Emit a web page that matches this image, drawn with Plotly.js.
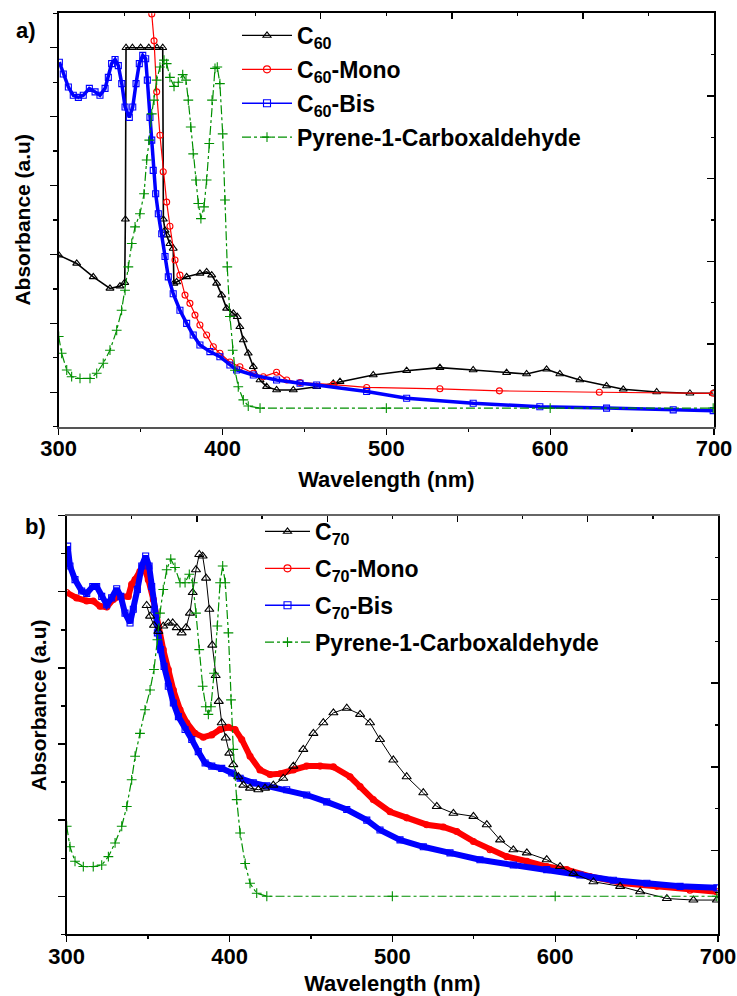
<!DOCTYPE html>
<html>
<head>
<meta charset="utf-8">
<script src="https://cdn.plot.ly/plotly-3.0.1.min.js"></script>
<style>html,body{margin:0;padding:0;background:#fff;}#chart{width:737px;height:996px;}</style>
</head>
<body>
<div id="chart"></div>
<script>
// ---------- Panel a) : C60 series (absorbance, arbitrary units) ----------
var c60X = [300,311,321.1,331.3,337.4,340.3,340.7,341.1,345,350,355,360,363.5,363.9,364.9,365.9,367.9,369.9,370.3,372,378.1,386.2,390.3,393.4,396.4,399.5,402.5,406.6,409,410.6,412.7,415.7,418.8,422.9,426.9,433,443.2,457.5,467.6,471.7,492,512.4,532.7,553,573.4,585.6,597.8,605.9,618.1,634.4,644.6,665,685.3,699.5];
var c60Y = [1.99,1.87,1.675,1.507,1.54,1.59,2.51,5.0,5.0,5.0,5.0,5.0,5.0,2.51,2.35,2.28,2.155,2.087,1.58,1.60,1.675,1.725,1.748,1.70,1.58,1.41,1.217,1.145,1.096,0.95,0.758,0.565,0.371,0.178,0.081,0.033,0.033,0.081,0.13,0.154,0.25,0.313,0.357,0.323,0.284,0.265,0.333,0.265,0.178,0.091,0.043,0.004,-0.015,-0.015];

var c60MonoX = [356.5,356.8,358.2,359.8,361.8,363.8,365.9,367.9,371,374,377.1,380.1,383.2,386.2,390.3,394.4,398.4,404.5,410.6,418.8,424.9,433,439.2,447.3,467.6,488,532.7,569,630,699.5];
var c60MonoY = [5.8,5.49,5.1,4.36,3.73,3.2,2.76,2.41,1.92,1.70,1.41,1.29,1.12,0.975,0.83,0.66,0.565,0.44,0.37,0.275,0.226,0.29,0.178,0.14,0.11,0.07,0.05,0.02,0.0,-0.015];

var c60BisX = [300.4,302.8,305.9,308.9,312,315,318.7,322.2,325.2,328.3,330.3,332.3,334.4,336.4,338.5,340.5,343.1,345.2,347.2,349.2,351.3,353.1,354.1,355.7,356.8,357.7,359.2,360.8,362.9,364.9,366.9,369.9,374,378.1,382.1,386.2,392.3,398.4,404.5,408.6,418.8,433,447.3,457.5,488,512.4,553,593.7,634.4,675.1,699.5];
var c60BisY = [4.79,4.62,4.43,4.31,4.28,4.31,4.41,4.36,4.31,4.41,4.57,4.77,4.83,4.74,4.48,4.14,3.99,4.14,4.48,4.77,4.89,4.84,4.53,3.99,3.66,3.22,2.88,2.59,2.30,1.97,1.675,1.43,1.19,1.0,0.83,0.685,0.59,0.516,0.396,0.323,0.25,0.178,0.13,0.106,0.01,-0.087,-0.16,-0.21,-0.23,-0.256,-0.267];

var pyrAX = [300,301.8,304.9,307.9,313,319.1,323.2,327.2,331.3,335.4,338.4,340.5,342.5,344.6,346.6,349.6,352.1,353.7,355.3,356.8,358.2,359.8,361.8,364.3,365.9,367.9,370.4,373,375.7,377.7,379.1,380.6,382.1,383.8,385.2,386.8,388.7,390.3,391.9,393.6,395.4,396.8,398.4,400.1,401.5,402.9,404.5,406.2,407.6,409.6,412.7,415.7,422.9,500,600,699.5];
var pyrAY = [0.81,0.565,0.323,0.226,0.2,0.2,0.275,0.42,0.61,0.9,1.19,1.48,1.82,2.16,2.40,2.59,2.88,3.37,3.66,4.04,4.24,4.53,4.72,4.82,4.77,4.57,4.44,4.50,4.61,4.53,4.24,3.85,3.46,3.08,2.74,2.52,2.69,3.08,3.61,4.24,4.70,4.72,4.48,3.75,2.79,1.82,1.10,0.61,0.32,0.08,-0.11,-0.2,-0.23,-0.23,-0.23,-0.23];

// ---------- Panel b) : C70 series ----------
var c70X = [349.1,351.2,353.6,356.3,359.3,362.4,365.1,367.6,370.6,373.3,375.7,377.4,379.4,381.4,383.5,385.6,387.6,389.4,391.5,393.4,395.2,397.7,399.9,402.3,405.4,408.5,412.6,417.7,421.8,426.9,433,439.2,445.3,451.5,457.6,463.8,472,480.2,486.3,492.4,500.6,508.8,519,527.3,537.5,549.8,558,566.2,574.3,582.6,594.8,603,611.2,623.5,639.9,652.2,668.6,684.9,699.3];
var c70Y = [3.82,3.68,3.56,3.48,3.55,3.59,3.59,3.53,3.46,3.53,3.72,3.99,4.29,4.49,4.47,4.18,3.77,3.30,2.90,2.56,2.28,2.08,1.88,1.73,1.57,1.46,1.42,1.40,1.42,1.46,1.55,1.71,1.93,2.14,2.28,2.41,2.47,2.39,2.28,2.06,1.79,1.57,1.36,1.18,1.09,1.05,0.94,0.74,0.61,0.57,0.48,0.39,0.30,0.19,0.13,0.06,-0.03,-0.05,-0.05];

var c70MonoX = [300,306.1,312.3,316.3,320.5,324.6,328.6,332.7,337.8,339.9,342,345,347.5,350.1,353.2,356.3,359.3,362.4,365.5,369.6,373.7,378.8,383.9,389.1,394.2,399.3,403.4,407.5,412.6,418.7,424.9,431,439.2,447.4,455.6,463.8,474,480.2,488.3,498.6,508.8,521.1,531.3,539.6,549.8,560,570.3,582.6,594.8,607.1,621.4,641.9,662.4,682.8,699.3];
var c70MonoY = [3.99,3.92,3.88,3.88,3.81,3.80,3.90,3.94,3.94,4.10,4.16,4.27,4.32,4.16,3.90,3.55,3.24,2.98,2.71,2.45,2.28,2.14,2.09,2.12,2.19,2.22,2.19,2.06,1.84,1.66,1.60,1.61,1.66,1.71,1.71,1.70,1.57,1.44,1.27,1.11,1.03,0.94,0.91,0.85,0.72,0.61,0.52,0.46,0.39,0.35,0.26,0.17,0.13,0.08,0.06];

var c70BisX = [300.6,302,305.1,309.2,312.3,316,318.4,321.5,324.6,327.6,330.7,333.2,335.8,338.9,340.9,343.4,346.1,348.5,350.6,352.2,353.8,355.7,357.7,359.8,362.4,365.5,368.6,372.7,376.8,380.8,385,389.1,395.2,401.4,406.5,414.6,422.9,435.1,447.4,459.7,472,484.3,492.4,504.7,519,535.4,553.8,574.3,594.8,615.2,635.7,656.3,676.7,699.3];
var c70BisY = [4.60,4.34,4.16,4.01,3.98,4.07,4.07,3.94,3.83,3.92,4.04,3.94,3.72,3.59,3.77,4.03,4.34,4.47,4.34,4.07,3.77,3.46,3.24,3.02,2.76,2.54,2.36,2.19,2.06,1.90,1.75,1.71,1.68,1.62,1.55,1.49,1.45,1.40,1.33,1.24,1.14,1.00,0.87,0.74,0.65,0.57,0.48,0.41,0.35,0.28,0.21,0.17,0.13,0.11];

var pyrBX = [300,302,305.1,310.2,316.3,321.5,325.6,329.7,333.8,336.9,339.9,342,345,348.1,351.2,353.6,355.7,357.3,359.3,361.4,363.9,366.5,369.6,372.7,375.3,377.4,379.4,381.4,383.5,385.4,387,388.6,390.5,392.5,394.2,395.8,397.4,399.3,400.9,402.3,404.4,406.5,409.6,412.6,416.7,422.9,500,600,699.3];
var pyrBY = [0.92,0.65,0.46,0.39,0.39,0.41,0.52,0.70,0.92,1.18,1.53,1.84,2.14,2.45,2.71,2.98,3.37,3.72,4.03,4.29,4.43,4.32,4.12,4.12,4.23,4.12,3.72,3.24,2.76,2.49,2.39,2.49,2.93,3.55,4.12,4.34,4.12,3.46,2.58,1.93,1.27,0.83,0.43,0.17,0.04,0.0,0.0,0.0,0.0];

var xTickVals = [300,400,500,600,700];
var xTickText = ['300','400','500','600','700'];
var legendA = ['C<sub>60</sub>','C<sub>60</sub>-Mono','C<sub>60</sub>-Bis','Pyrene-1-Carboxaldehyde'];
var legendB = ['C<sub>70</sub>','C<sub>70</sub>-Mono','C<sub>70</sub>-Bis','Pyrene-1-Carboxaldehyde'];

// ---------- styles ----------
var BLACK='#000000', RED='#ff0000', BLUE='#0000ff', GREEN='#009000';
var tickFont = {family:'Liberation Sans, Arial, sans-serif', size:22, color:'#000', weight:'bold'};
var titleFont = {family:'Liberation Sans, Arial, sans-serif', size:22, color:'#000', weight:'bold'};
var legFont = {family:'Liberation Sans, Arial, sans-serif', size:23, color:'#000', weight:'bold'};

function dataTrace(x,y,xa,ya,color,lw,sym,ms,dash){
  return {x:x,y:y,xaxis:xa,yaxis:ya,type:'scatter',mode:'lines+markers',showlegend:false,hoverinfo:'skip',
    line:{color:color,width:lw,dash:dash||'solid'},
    marker:{symbol:sym,size:ms,color:color,line:{color:color,width:1.1}}};
}
function legTrace(name,xa,ya,leg,grp,color,sym,ms,dash){
  return {x:[null],y:[null],xaxis:xa,yaxis:ya,type:'scatter',mode:'lines+markers',name:name,legend:leg,legendgroup:grp,showlegend:true,hoverinfo:'skip',
    line:{color:color,width:1.3,dash:dash||'solid'},
    marker:{symbol:sym,size:7,color:color,line:{color:color,width:1.1}}};
}
function blank(xa,ya){return {x:[null],y:[null],xaxis:xa,yaxis:ya,type:'scatter',mode:'markers',showlegend:false,hoverinfo:'skip'};}

var traces = [
  dataTrace(c60X,c60Y,'x','y',BLACK,1.6,'triangle-up-open',7),
  dataTrace(c60MonoX,c60MonoY,'x','y',RED,1.2,'circle-open',6),
  dataTrace(c60BisX,c60BisY,'x','y',BLUE,3.5,'square-open',6),
  dataTrace(pyrAX,pyrAY,'x','y',GREEN,1.2,'cross-thin-open',7,'dashdot'),
  dataTrace(c70MonoX,c70MonoY,'x3','y3',RED,6,'circle-open',6),
  dataTrace(c70BisX,c70BisY,'x3','y3',BLUE,6,'square-open',6),
  dataTrace(c70X,c70Y,'x3','y3',BLACK,1,'triangle-up-open',8),
  dataTrace(pyrBX,pyrBY,'x3','y3',GREEN,1.2,'cross-thin-open',7,'dashdot'),
  legTrace(legendA[0],'x','y','legend','a0',BLACK,'triangle-up-open'),
  legTrace(legendA[1],'x','y','legend','a1',RED,'circle-open'),
  legTrace(legendA[2],'x','y','legend','a2',BLUE,'square-open'),
  legTrace(legendA[3],'x','y','legend','a3',GREEN,'cross-thin-open',7,'dashdot'),
  legTrace(legendB[0],'x3','y3','legend2','b0',BLACK,'triangle-up-open'),
  legTrace(legendB[1],'x3','y3','legend2','b1',RED,'circle-open'),
  legTrace(legendB[2],'x3','y3','legend2','b2',BLUE,'square-open'),
  legTrace(legendB[3],'x3','y3','legend2','b3',GREEN,'cross-thin-open',7,'dashdot'),
  blank('x2','y'), blank('x','y2'), blank('x4','y3'), blank('x3','y4')
];

var W=737,H=996;
function px(a){return a/W;} function py(b){return 1-b/H;}

function bottomX(domain, anchor, lineColor, standoff){
  return {domain:domain, anchor:anchor, range:[300,700], tickvals:xTickVals, ticktext:xTickText,
    ticks:'outside', ticklen:6, tickwidth:1.3, tickcolor:'#000',
    minor:{tickvals:[350,450,550,650], ticks:'outside', ticklen:3, tickwidth:1.3, tickcolor:'#000'},
    showline:true, linecolor:lineColor, linewidth:2, showgrid:false, zeroline:false,
    tickfont:tickFont, ticklabelstandoff:-5, ticklabeloverflow:'allow',
    title:{text:'Wavelength (nm)', font:titleFont, standoff:standoff}};
}
function leftY(domain, anchor, range){
  return {domain:domain, anchor:anchor, range:range, dtick:1, tick0:0, ticks:'outside', ticklen:7, tickwidth:1.3, tickcolor:'#000',
    minor:{dtick:0.5, tick0:0, ticks:'outside', ticklen:4, tickwidth:1.3, tickcolor:'#000'},
    showticklabels:false, showline:true, linecolor:'#000', linewidth:2, showgrid:false, zeroline:false};
}
function topX(over, anchor, lineColor){
  return {overlaying:over, anchor:anchor, side:'top', range:[0,10], dtick:2, tick0:0, ticks:'inside', ticklen:6, tickwidth:1.3, tickcolor:'#000',
    minor:{dtick:1, tick0:0, ticks:'inside', ticklen:3, tickwidth:1.3, tickcolor:'#000'},
    showticklabels:false, showline:true, linecolor:lineColor, linewidth:2, showgrid:false, zeroline:false};
}
function rightY(over, anchor){
  return {overlaying:over, anchor:anchor, side:'right', range:[0,10], dtick:2, tick0:0, ticks:'inside', ticklen:7, tickwidth:1.3, tickcolor:'#000',
    minor:{dtick:1, tick0:0, ticks:'inside', ticklen:3.5, tickwidth:1.3, tickcolor:'#000'},
    showticklabels:false, showline:true, linecolor:'#000', linewidth:2, showgrid:false, zeroline:false};
}

var layout = {
  width:W, height:H, margin:{l:0,r:0,t:0,b:0}, paper_bgcolor:'#fff', plot_bgcolor:'rgba(0,0,0,0)',
  showlegend:true,
  xaxis: bottomX([px(58.7),px(714)], 'y', '#555', 12),
  yaxis: leftY([py(426.7),py(13.3)], 'x', [-0.5,5.5]),
  xaxis2: topX('x','y','#000'),
  yaxis2: rightY('y','x'),
  xaxis3: bottomX([px(66.7),px(718)], 'y3', '#000', 8),
  yaxis3: leftY([py(934.3),py(515.7)], 'x3', [-0.5,5.0]),
  xaxis4: topX('x3','y3','#666'),
  yaxis4: rightY('y3','x3'),
  legend: {x:px(237), xanchor:'left', y:py(14), yanchor:'top', bgcolor:'rgba(0,0,0,0)', borderwidth:0,
    font:legFont, itemwidth:50, tracegroupgap:1, traceorder:'grouped'},
  legend2: {x:px(260), xanchor:'left', y:py(510), yanchor:'top', bgcolor:'rgba(0,0,0,0)', borderwidth:0,
    font:legFont, itemwidth:45, tracegroupgap:4, traceorder:'grouped'},
  annotations: [
    {text:'a)', xref:'paper', yref:'paper', x:px(26), y:py(31), xanchor:'center', yanchor:'middle', showarrow:false,
      font:{family:'Liberation Sans, Arial, sans-serif', size:22, color:'#000', weight:'bold'}},
    {text:'b)', xref:'paper', yref:'paper', x:px(35), y:py(526), xanchor:'center', yanchor:'middle', showarrow:false,
      font:{family:'Liberation Sans, Arial, sans-serif', size:22, color:'#000', weight:'bold'}},
    {text:'Absorbance (a.u)', xref:'paper', yref:'paper', x:px(23), y:py(219.6), xanchor:'center', yanchor:'middle', textangle:-90, showarrow:false,
      font:{family:'Liberation Sans, Arial, sans-serif', size:21, color:'#000', weight:'bold'}},
    {text:'Absorbance (a.u)', xref:'paper', yref:'paper', x:px(38), y:py(705), xanchor:'center', yanchor:'middle', textangle:-90, showarrow:false,
      font:{family:'Liberation Sans, Arial, sans-serif', size:21, color:'#000', weight:'bold'}}
  ]
};

Plotly.newPlot('chart', traces, layout, {staticPlot:true, displayModeBar:false});
</script>
</body>
</html>
